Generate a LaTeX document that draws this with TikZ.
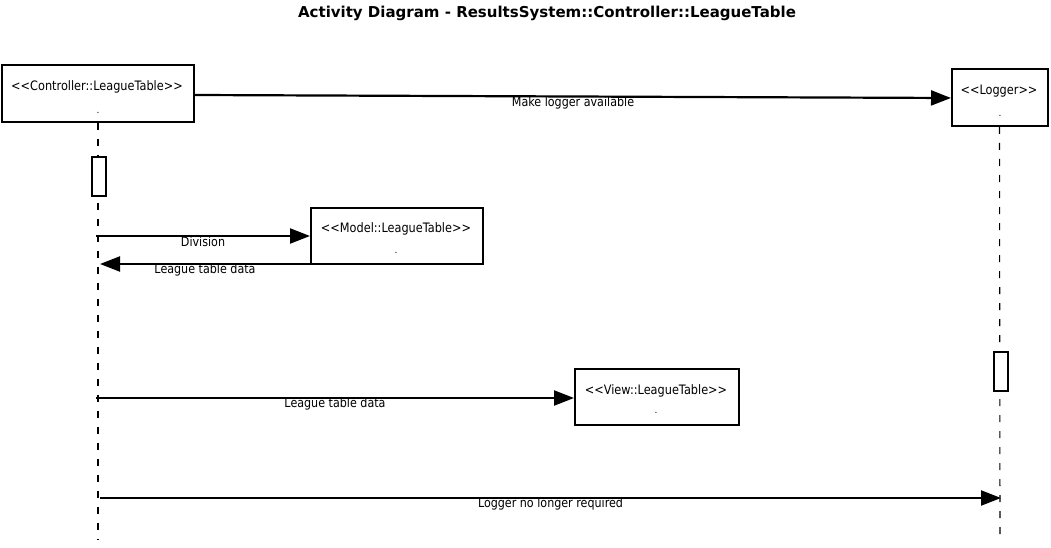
\documentclass[tikz,border=0pt]{standalone}
\usepackage{fontspec}
\setmainfont{DejaVu Sans}
\newfontfamily\condfont[FakeStretch=0.87]{DejaVu Sans}
\usetikzlibrary{arrows.meta}
\tikzset{
  obj/.style={draw, line width=2pt, inner sep=0pt, anchor=north west},
  lbl/.style={font=\condfont\fontsize{12.8}{14}\selectfont},
  boxtxt/.style={font=\condfont\fontsize{13}{15}\selectfont},
  msg/.style={line width=2.2pt, -{Triangle[length=20pt,width=15pt]}},
  life/.style={line width=1.1pt, dash pattern=on 7pt off 9pt},
  act/.style={draw, line width=2pt, fill=white, inner sep=0pt, anchor=north west},
  dot/.style={font=\small, inner sep=0pt},
}
\begin{document}
\begin{tikzpicture}[x=1pt,y=-1pt]
\useasboundingbox[fill=white] (0,0) rectangle (1051,548);
\node[font=\bfseries\fontsize{15}{17}\selectfont] (title) at (547,13) {Activity Diagram - ResultsSystem::Controller::LeagueTable};

% objects
\node[obj, minimum width=192pt, minimum height=57pt] (ctrl) at (1,64) {};
\node[boxtxt] (ctrlt) at (97,87) {<{}<Controller::LeagueTable>{}>};
\node[dot] (ctrld) at (98,113) {.};

\node[obj, minimum width=96pt, minimum height=57pt] (log) at (951,68) {};
\node[boxtxt] (logt) at (999,91) {<{}<Logger>{}>};
\node[dot] (logd) at (1000,116) {.};

\node[obj, minimum width=172pt, minimum height=56pt] (model) at (310,207) {};
\node[boxtxt] (modelt) at (396,229) {<{}<Model::LeagueTable>{}>};
\node[dot] (modeld) at (396,253) {.};

\node[obj, minimum width=164pt, minimum height=56pt] (view) at (574,368) {};
\node[boxtxt] (viewt) at (656,391) {<{}<View::LeagueTable>{}>};
\node[dot] (viewd) at (656,413) {.};

% lifelines
\coordinate (ctrlend) at (98,540);
\coordinate (logend) at (1000,540);
\draw[life] (ctrl.south) -- (ctrlend);
\draw[life] (log.south) ++(-0.5,0) -- (logend);

% activations
\node[act, minimum width=14pt, minimum height=39pt] (act1) at (91,156) {};
\node[act, minimum width=14pt, minimum height=39pt] (act2) at (993,351) {};

% messages
\coordinate (c1) at (96,236);
\coordinate (c2) at (100,264);
\coordinate (c3) at (96,398);
\coordinate (c4) at (100,498);
\coordinate (l4) at (1001,498);

\draw[msg] (ctrl.east |- 0,95) -- node[lbl, pos=0.5, yshift=-6pt] (m1) {Make logger available} (log.west |- 0,98);
\draw[msg] (c1) -- node[lbl, pos=0.5, yshift=-6pt] (m2) {Division} (model.west |- c1);
\draw[msg] (model.west |- c2) -- node[lbl, pos=0.5, yshift=-6pt] (m3) {League table data} (c2);
\draw[msg] (c3) -- node[lbl, pos=0.5, yshift=-6pt] (m4) {League table data} (view.west |- c3);
\draw[msg] (c4) -- node[lbl, pos=0.5, yshift=-6pt] (m5) {Logger no longer required} (l4);
\end{tikzpicture}
\end{document}
